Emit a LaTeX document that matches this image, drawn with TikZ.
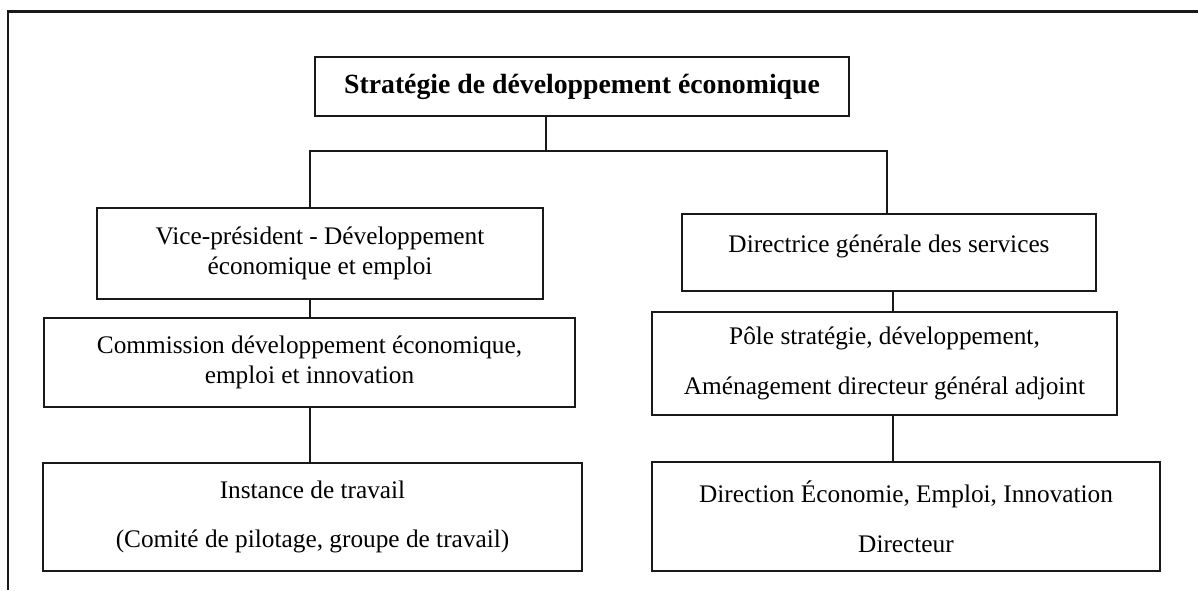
\documentclass[tikz,border=0pt]{standalone}
\usepackage{fontspec}
\setmainfont{Liberation Serif}
\begin{document}
\begin{tikzpicture}[
  box/.style={draw=black!90, line width=1pt, align=center,
              font=\fontsize{14.4}{17}\selectfont, inner sep=2pt},
  head/.style={draw=black!90, line width=1pt,
               font=\fontsize{15.8}{18}\selectfont\bfseries},
  link/.style={draw=black!90, line width=1pt},
]
\useasboundingbox (0,0) rectangle (23.96,11.8);
\draw[link, line width=1.2pt] (0.16,0) -- (0.16,11.57) -- (23.96,11.57);

\node[head, minimum width=10.68cm, minimum height=1.18cm] (title) at (11.64,10.07)
  {Stratégie de développement économique};

\node[box, minimum width=8.92cm, minimum height=1.82cm] (vp) at (6.40,6.73)
  {Vice-président - Développement\\économique et emploi};
\node[box, minimum width=10.62cm, minimum height=1.78cm] (cdee) at (6.19,4.55)
  {Commission développement économique,\\emploi et innovation};
\node[box, minimum width=10.78cm, minimum height=2.16cm] (inst) at (6.25,1.46)
  {Instance de travail\\[0.4cm](Comité de pilotage, groupe de travail)};

\node[box, minimum width=8.28cm, minimum height=1.54cm, text depth=0.35cm] (dgs) at (17.78,6.75)
  {Directrice générale des services};
\node[box, minimum width=9.30cm, minimum height=2.06cm] (pole) at (17.69,4.53)
  {Pôle stratégie, développement,\\[0.4cm]Aménagement directeur général adjoint};
\node[box, minimum width=10.16cm, minimum height=2.18cm] (dir) at (18.12,1.47)
  {Direction Économie, Emploi, Innovation\\[0.4cm]Directeur};

\coordinate (tbus) at (10.92,8.78);
\coordinate (lbus) at (6.20,8.78);
\coordinate (rbus) at (17.74,8.78);
\coordinate (rcol) at (17.86,0);

\draw[link] (tbus |- title.south) -- (tbus);
\draw[link] (lbus |- vp.north) |- (rbus) -- (rbus |- dgs.north);
\draw[link] (lbus |- vp.south) -- (lbus |- cdee.north);
\draw[link] (lbus |- cdee.south) -- (lbus |- inst.north);
\draw[link] (rcol |- dgs.south) -- (rcol |- pole.north);
\draw[link] (rcol |- pole.south) -- (rcol |- dir.north);
\end{tikzpicture}
\end{document}
